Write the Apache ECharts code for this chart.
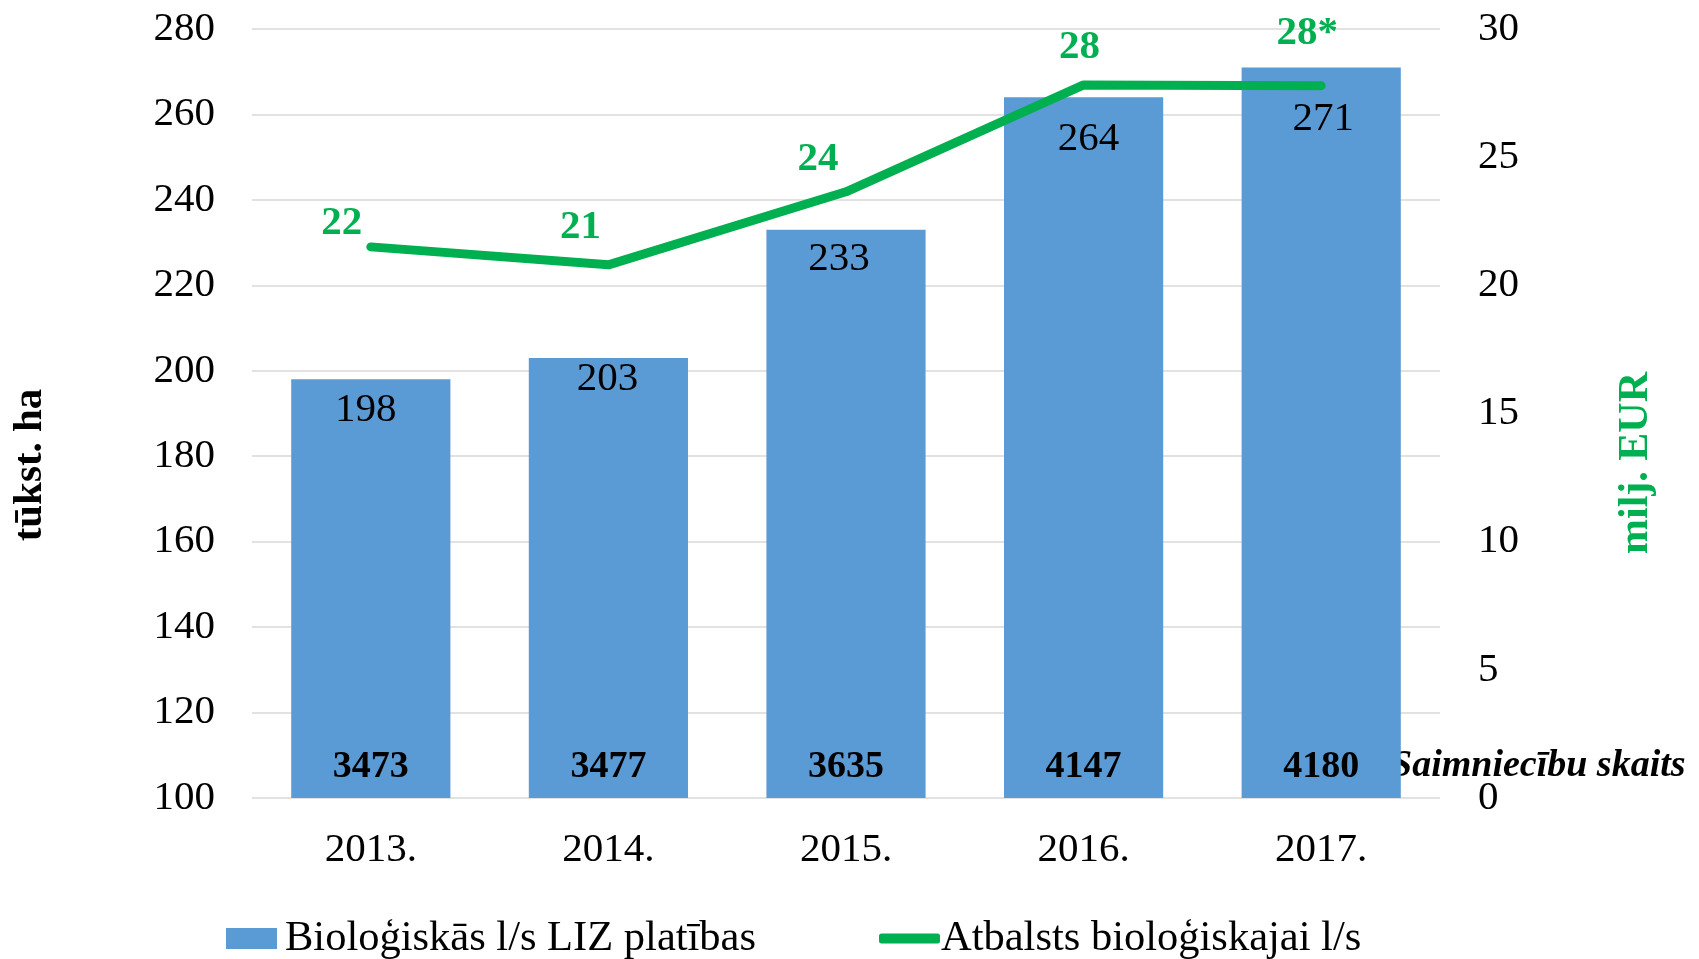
<!DOCTYPE html>
<html>
<head>
<meta charset="utf-8">
<title>Bioloģiskā lauksaimniecība</title>
<script src="https://cdn.jsdelivr.net/npm/echarts@6/dist/echarts.min.js"></script>
<style>
  html, body { margin: 0; padding: 0; background: #fff; }
  #chart { width: 1699px; height: 959px; }
</style>
</head>
<body>
<div id="chart"></div>
<script>
// dati
const years = ['2013.', '2014.', '2015.', '2016.', '2017.'];
const areas = [198, 203, 233, 264, 271];          // tūkst. ha
const support = [21.5, 20.8, 23.65, 27.82, 27.79]; // milj. EUR
const supportLabels = ['22', '21', '24', '28', '28*'];
const farmCounts = [3473, 3477, 3635, 4147, 4180];

const areaName = 'Bioloģiskās l/s LIZ platības';
const supportName = 'Atbalsts bioloģiskajai l/s';

const FONT = '"Liberation Serif", "Times New Roman", serif';
const BLUE = '#5b9bd5';
const GREEN = '#00b050';

// etiķešu nobīdes (Excel manuāli pārvietotas)
const labelShift = [[-29, -23], [-28, -37], [-28, -32], [-4, -37], [-14, -52]];
const barLabelShift = [[-5, 5], [-1, -4], [-7, 4], [5, 16], [2, 26]];

const chart = echarts.init(document.getElementById('chart'));

const option = {
  animation: false,
  textStyle: { fontFamily: FONT },
  grid: { left: 252, right: 259, top: 29, bottom: 161 },
  legend: [
    {
      data: [areaName],
      left: 221, top: 912,
      itemWidth: 51, itemHeight: 21,
      icon: 'rect',
      textStyle: { fontFamily: FONT, fontSize: 42.5, color: '#000', padding: [0, 0, 0, 3] }
    },
    {
      data: [{ name: supportName, icon: 'roundRect' }],
      left: 874, top: 912,
      itemWidth: 61, itemHeight: 10,
      textStyle: { fontFamily: FONT, fontSize: 42.5, color: '#000', padding: [0, 0, 0, -4] }
    }
  ],
  xAxis: {
    type: 'category',
    data: years,
    axisLine: { show: false },
    axisTick: { show: false },
    axisLabel: { fontFamily: FONT, fontSize: 41, color: '#000', margin: 32 }
  },
  yAxis: [
    {
      type: 'value',
      min: 100, max: 280, interval: 20,
      axisLine: { show: false },
      axisTick: { show: false },
      axisLabel: { fontFamily: FONT, fontSize: 41, color: '#000', margin: 37 },
      splitLine: { lineStyle: { color: '#d9d9d9', width: 1.5 } }
    },
    {
      type: 'value',
      min: 0, max: 30, interval: 5,
      axisLine: { show: false },
      axisTick: { show: false },
      axisLabel: { fontFamily: FONT, fontSize: 41, color: '#000', margin: 38 },
      splitLine: { show: false }
    }
  ],
  series: [
    {
      name: areaName,
      type: 'bar',
      data: areas.map((v, i) => ({
        value: v,
        label: { offset: barLabelShift[i] }
      })),
      barCategoryGap: '33%',
      itemStyle: { color: BLUE },
      label: {
        show: true,
        position: 'insideTop',
        distance: 5,
        fontFamily: FONT, fontSize: 41, color: '#000'
      }
    },
    {
      // saimniecību skaits pie stabiņu pamatnes
      name: 'farms',
      type: 'bar',
      data: areas,
      barGap: '-100%',
      barCategoryGap: '33%',
      itemStyle: { color: 'rgba(0,0,0,0)' },
      silent: true,
      label: {
        show: true,
        position: 'insideBottom',
        distance: 12,
        fontFamily: FONT, fontSize: 38, fontWeight: 'bold', color: '#000',
        formatter: p => String(farmCounts[p.dataIndex])
      }
    },
    {
      name: supportName,
      type: 'line',
      yAxisIndex: 1,
      data: support.map((v, i) => ({
        value: v,
        label: { offset: labelShift[i] }
      })),
      symbol: 'circle',
      symbolSize: 1,
      itemStyle: { color: GREEN },
      lineStyle: { color: GREEN, width: 9, cap: 'round', join: 'round' },
      label: {
        show: true,
        position: 'top',
        distance: 0,
        verticalAlign: 'middle',
        fontFamily: FONT, fontSize: 41, fontWeight: 'bold', color: GREEN,
        formatter: p => supportLabels[p.dataIndex]
      },
      z: 5
    }
  ],
  graphic: [
    {
      type: 'text',
      x: 30, y: 465,
      rotation: Math.PI / 2,
      style: {
        text: 'tūkst. ha',
        font: 'bold 41px ' + FONT,
        fill: '#000',
        textAlign: 'center',
        textVerticalAlign: 'middle'
      }
    },
    {
      type: 'text',
      x: 1636, y: 463,
      rotation: Math.PI / 2,
      style: {
        text: 'milj. EUR',
        font: 'bold 42px ' + FONT,
        fill: GREEN,
        textAlign: 'center',
        textVerticalAlign: 'middle'
      }
    },
    {
      type: 'text',
      x: 1391, y: 766,
      style: {
        text: 'Saimniecību skaits',
        font: 'italic bold 38px ' + FONT,
        fill: '#000',
        textAlign: 'left',
        textVerticalAlign: 'middle'
      }
    }
  ]
};

chart.setOption(option);
</script>
</body>
</html>
